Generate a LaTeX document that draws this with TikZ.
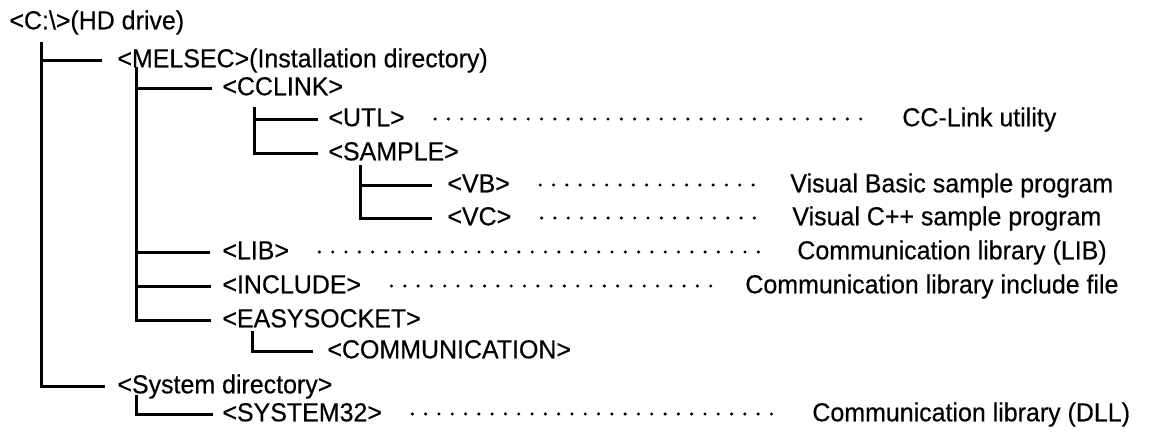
\documentclass[tikz,border=0pt]{standalone}
\usepackage{fontspec}
\setmainfont{Liberation Sans}[FakeStretch=0.96,FakeBold=0.4]
\begin{document}
\begin{tikzpicture}[x=0.5pt,y=-0.5pt,
  dir/.style={anchor=west, inner sep=0pt, text height=9.3pt, text depth=0pt,
    font=\fontsize{13}{15}\selectfont},
  note/.style={dir},
  tree/.style={line width=1.5pt},
  leader/.style={line width=1.7pt, line cap=round, dash pattern=on 0pt off 6.65pt}]
\useasboundingbox (0,0) rectangle (1152,432);
% directory nodes
\node[dir] (root)    at (9,20)    {<C:\textbackslash>(HD drive)};
\node[dir] (melsec)  at (117,58)  {<MELSEC>(Installation directory)};
\node[dir] (cclink)  at (222,86)  {<CCLINK>};
\node[dir] (utl)     at (328,117) {<UTL>};
\node[dir] (sample)  at (328,151) {<SAMPLE>};
\node[dir] (vb)      at (447,183) {<VB>};
\node[dir] (vc)      at (447,216) {<VC>};
\node[dir] (lib)     at (222,250) {<LIB>};
\node[dir] (include) at (222,284) {<INCLUDE>};
\node[dir] (easy)    at (222,318) {<EASYSOCKET>};
\node[dir] (comm)    at (327,349) {<COMMUNICATION>};
\node[dir] (sysdir)  at (117,384) {<System directory>};
\node[dir] (sys32)   at (222,412) {<SYSTEM32>};
% notes
\node[note] (nutl)     at (902,117) {CC-Link utility};
\node[note] (nvb)      at (790,183) {Visual Basic sample program};
\node[note] (nvc)      at (792,216) {Visual C++ sample program};
\node[note] (nlib)     at (797,250) {Communication library (LIB)};
\node[note] (ninclude) at (745,284) {Communication library include file};
\node[note] (nsys32)   at (812,412) {Communication library (DLL)};
% trunk tops
\coordinate (t1) at (41,42);
\coordinate (t2) at (136,67);
\coordinate (t3) at (254,107);
\coordinate (t4) at (360,165);
\coordinate (t5) at (252,331);
\coordinate (t6) at (136,395);
% tree connectors
\draw[tree] (t1) |- ([xshift=-6pt,yshift=-1.5pt]sysdir.west);
\draw[tree] (t1) |- ([xshift=-7.5pt,yshift=-1.5pt]melsec.west);
\draw[tree] (t2) |- ([xshift=-5.5pt,yshift=-1.5pt]easy.west);
\draw[tree] (t2) |- ([xshift=-5pt,yshift=-1.5pt]cclink.west);
\draw[tree] (t2) |- ([xshift=-6pt,yshift=-1.5pt]lib.west);
\draw[tree] (t2) |- ([xshift=-5.5pt,yshift=-1.5pt]include.west);
\draw[tree] (t3) |- ([xshift=-5pt,yshift=-1.5pt]sample.west);
\draw[tree] (t3) |- ([xshift=-5pt,yshift=-1.5pt]utl.west);
\draw[tree] (t4) |- ([xshift=-7.5pt,yshift=-1.5pt]vc.west);
\draw[tree] (t4) |- ([xshift=-7.5pt,yshift=-1.5pt]vb.west);
\draw[tree] (t5) |- ([xshift=-7pt,yshift=-1.5pt]comm.west);
\draw[tree] (t6) |- ([xshift=-4.5pt,yshift=-1.5pt]sys32.west);
% leaders
\draw[leader] ([xshift=15pt,yshift=-1pt]utl.east) -- ([xshift=-16pt,yshift=-1pt]nutl.west);
\draw[leader] ([xshift=15pt,yshift=-1pt]vb.east) -- ([xshift=-16pt,yshift=-1pt]nvb.west);
\draw[leader] ([xshift=15pt,yshift=-1pt]vc.east) -- ([xshift=-16pt,yshift=-1pt]nvc.west);
\draw[leader] ([xshift=15pt,yshift=-1pt]lib.east) -- ([xshift=-16pt,yshift=-1pt]nlib.west);
\draw[leader] ([xshift=15pt,yshift=-1pt]include.east) -- ([xshift=-16pt,yshift=-1pt]ninclude.west);
\draw[leader] ([xshift=15pt,yshift=-1pt]sys32.east) -- ([xshift=-16pt,yshift=-1pt]nsys32.west);
\end{tikzpicture}
\end{document}
